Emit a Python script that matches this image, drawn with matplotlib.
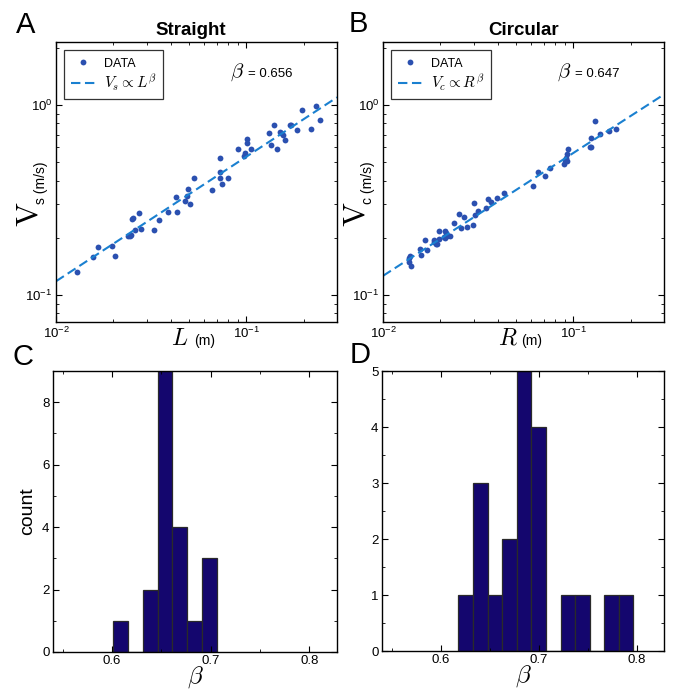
import numpy as np
import matplotlib
matplotlib.use("Agg")
import matplotlib.pyplot as plt
from matplotlib.ticker import LogLocator, MultipleLocator, NullFormatter

plt.rcParams['font.family'] = ['Liberation Sans', 'DejaVu Sans']
plt.rcParams['mathtext.fontset'] = 'cm'

# ---- data: straight paths (panel A)
L_s = [0.01290, 0.01566, 0.01657, 0.01979, 0.02036, 0.02383, 0.02452, 0.02492, 0.02502, 0.02553,
       0.02594, 0.02746, 0.02790, 0.03280, 0.03471, 0.03870, 0.04298, 0.04350, 0.04755, 0.04911,
       0.04971, 0.05052, 0.05324, 0.06569, 0.07238, 0.07238, 0.07267, 0.07444, 0.08040, 0.09040,
       0.09761, 0.09840, 0.1004, 0.1008, 0.1058, 0.1322, 0.1343, 0.1398, 0.1456, 0.1498,
       0.1528, 0.1565, 0.1604, 0.1697, 0.1718, 0.1848, 0.1971, 0.2190, 0.2336, 0.2442]
V_s = [0.1316, 0.1585, 0.1781, 0.1818, 0.1611, 0.2036, 0.2052, 0.2077, 0.2502, 0.2553,
       0.2207, 0.2691, 0.2225, 0.2207, 0.2482, 0.2723, 0.3280, 0.2734, 0.3136, 0.3333,
       0.3613, 0.3024, 0.4112, 0.3570, 0.5282, 0.4457, 0.4128, 0.3855, 0.4112, 0.5890,
       0.5369, 0.5589, 0.6624, 0.6310, 0.5890, 0.7094, 0.6135, 0.7849, 0.5890, 0.7210,
       0.7123, 0.6953, 0.6544, 0.7849, 0.7816, 0.7386, 0.9374, 0.7505, 0.9840, 0.8304]
beta_s = 0.656
pref_s = 2.42

# ---- data: circular paths (panel B)
R_c = [0.01362, 0.01367, 0.01390, 0.01395, 0.01570, 0.01576, 0.01661, 0.01702, 0.01846, 0.01861,
       0.01899, 0.01930, 0.01970, 0.01970, 0.02086, 0.02111, 0.02128, 0.02154, 0.02172, 0.02262,
       0.02365, 0.02514, 0.02576, 0.02672, 0.02772, 0.02958, 0.02995, 0.03031, 0.03143, 0.03465,
       0.03551, 0.03713, 0.03994, 0.04331, 0.06168, 0.06501, 0.07109, 0.07554, 0.08890, 0.08998,
       0.09108, 0.09220, 0.09296, 0.09371, 0.1220, 0.1235, 0.1245, 0.1307, 0.1384, 0.1544, 0.1688]
V_c = [0.1498, 0.1565, 0.1598, 0.1415, 0.1739, 0.1624, 0.1955, 0.1718, 0.1940, 0.1893,
       0.1855, 0.1855, 0.2163, 0.1971, 0.2011, 0.1987, 0.2163, 0.2112, 0.2052, 0.2036,
       0.2403, 0.2680, 0.2243, 0.2585, 0.2289, 0.2326, 0.3037, 0.2647, 0.2779, 0.2870,
       0.3214, 0.3074, 0.3227, 0.3456, 0.3747, 0.4457, 0.4213, 0.4661, 0.4893, 0.5115,
       0.5261, 0.5073, 0.5543, 0.5890, 0.6010, 0.6010, 0.6705, 0.8203, 0.7037, 0.7325, 0.7475]
beta_c = 0.647
pref_c = 2.48

# ---- data: histograms of beta (panels C, D)
histC_start, histC_width = 0.601, 0.0150
histC_counts = [1, 0, 2, 9, 4, 1, 3]
histD_start, histD_width = 0.618, 0.0149
histD_counts = [1, 3, 1, 2, 5, 4, 0, 1, 1, 0, 1, 1]

W, H = 674, 694
fig = plt.figure(figsize=(W / 100, H / 100), dpi=100)


def px_axes(l, t, r, b):
    return fig.add_axes([l / W, 1 - b / H, (r - l) / W, (b - t) / H])


dot_col = '#2b50b0'
line_col = '#1a80d0'
bar_col = '#14066e'


def style(ax):
    ax.tick_params(which='both', direction='in', top=True, right=True, pad=2.5)
    ax.tick_params(which='major', length=4, width=0.8)
    ax.tick_params(which='minor', length=2.5, width=0.6)
    for s in ax.spines.values():
        s.set_linewidth(1.0)


def scatter_panel(ax, x, y, beta, pref, title, sym, xsym, vsub, beta_txt, title_x):
    ax.plot(x, y, 'o', color=dot_col, ms=4.2, mew=0, label='DATA')
    xf = np.array([0.01, 0.3])
    ax.plot(xf, pref * xf ** beta, '--', color=line_col, lw=1.5, dashes=(4.5, 2.2),
            label=r'$V_%s \propto %s^\beta$' % (sym, xsym))
    ax.set_xscale('log')
    ax.set_yscale('log')
    ax.set_xlim(0.01, 0.3)
    ax.set_ylim(0.072, 2.15)
    ax.xaxis.set_major_locator(LogLocator(10))
    ax.yaxis.set_major_locator(LogLocator(10))
    ax.xaxis.set_minor_locator(LogLocator(10, subs=np.arange(2, 10)))
    ax.yaxis.set_minor_locator(LogLocator(10, subs=np.arange(2, 10)))
    ax.xaxis.set_minor_formatter(NullFormatter())
    ax.yaxis.set_minor_formatter(NullFormatter())
    ax.tick_params(labelsize=9.5)
    style(ax)
    leg = ax.legend(loc='upper left', bbox_to_anchor=(0.03, 0.97), fancybox=False,
                    edgecolor='#333333', framealpha=1, fontsize=11, handlelength=1.6,
                    handletextpad=0.6, borderpad=0.4, labelspacing=0.15, numpoints=1,
                    borderaxespad=0)
    leg.get_frame().set_linewidth(0.9)
    leg.get_texts()[0].set_fontsize(9)
    ax.set_title(title, fontsize=13.5, fontweight='bold', pad=5, x=title_x)
    ax.text(0.62, 0.875, r'$\beta$', fontsize=15, transform=ax.transAxes,
            ha='left', va='baseline')
    ax.text(0.685, 0.875, '= ' + beta_txt, fontsize=9.5, transform=ax.transAxes,
            ha='left', va='baseline')
    # y label: big V with small subscript and unit
    ax.text(-0.066, 0.34, r'$\mathrm{V}$', fontsize=23, rotation=90,
            rotation_mode='anchor', ha='left', va='baseline', transform=ax.transAxes)
    ax.text(-0.040, 0.42, vsub + ' (m/s)', fontsize=10, rotation=90,
            rotation_mode='anchor', ha='left', va='baseline', transform=ax.transAxes)
    # x label
    ax.text(0.41, -0.082, r'$%s$' % xsym, fontsize=17, transform=ax.transAxes,
            ha='left', va='baseline')
    ax.text(0.49, -0.082, '(m)', fontsize=10, transform=ax.transAxes,
            ha='left', va='baseline')


def hist_panel(ax, start, width, counts, ymax, ylabel):
    lefts = start + width * np.arange(len(counts))
    ax.bar(lefts, counts, width=width, align='edge', color=bar_col,
           edgecolor='#2a2a2a', linewidth=0.9)
    ax.set_xlim(0.54, 0.828)
    ax.set_ylim(0, ymax)
    ax.set_xticks([0.6, 0.7, 0.8])
    ax.set_xticklabels(['0.6', '0.7', '0.8'])
    ax.xaxis.set_minor_locator(MultipleLocator(0.05))
    if ymax > 6:
        ax.yaxis.set_major_locator(MultipleLocator(2))
        ax.yaxis.set_minor_locator(MultipleLocator(1))
    else:
        ax.yaxis.set_major_locator(MultipleLocator(1))
        ax.yaxis.set_minor_locator(MultipleLocator(0.5))
    ax.tick_params(labelsize=9.5)
    style(ax)
    ax.set_xlabel(r'$\beta$', fontsize=18, labelpad=-2)
    if ylabel:
        ax.set_ylabel(ylabel, fontsize=14, labelpad=4)


axA = px_axes(56, 42, 337, 322)
axB = px_axes(383, 42, 664, 322)
axC = px_axes(53, 371, 337, 652)
axD = px_axes(382, 371, 664, 651)

scatter_panel(axA, L_s, V_s, beta_s, pref_s, 'Straight', 's', 'L', 's', '0.656', 0.478)
scatter_panel(axB, R_c, V_c, beta_c, pref_c, 'Circular', 'c', 'R', 'c', '0.647', 0.5)
hist_panel(axC, histC_start, histC_width, histC_counts, 9, 'count')
hist_panel(axD, histD_start, histD_width, histD_counts, 5, None)

for lab, x, y in [('A', 16, 33), ('B', 349, 32), ('C', 13, 365), ('D', 350, 363)]:
    fig.text(x / W, 1 - y / H, lab, fontsize=21, ha='left', va='baseline')

fig.savefig('out.png', dpi=100)
